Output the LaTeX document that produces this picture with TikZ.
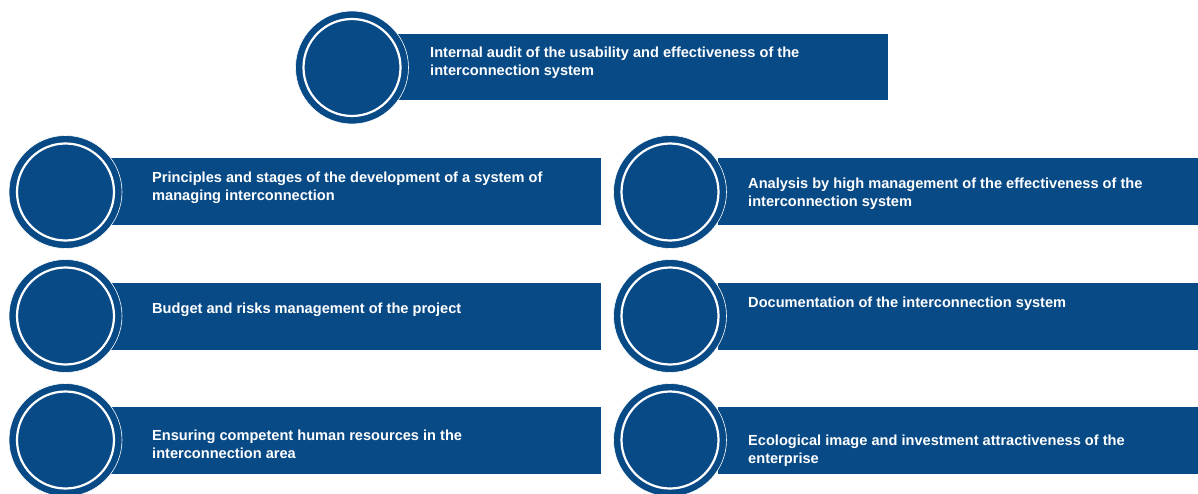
\documentclass[tikz,border=0pt]{standalone}
\usepackage{fontspec}
\setmainfont{Liberation Sans}
\definecolor{navy}{RGB}{8,74,134}
\begin{document}
\begin{tikzpicture}[x=1pt,y=-1pt,
  bar/.style={fill=navy,draw=none,anchor=north west,inner sep=0pt},
  outerc/.style={circle,fill=navy,draw=white,line width=0.6pt,minimum size=113pt,inner sep=0pt},
  ring/.style={circle,draw=white,line width=2.2pt,fill=navy,minimum size=97pt,inner sep=0pt},
  lbl/.style={anchor=west,align=left,text=white,font=\bfseries\fontsize{14.6}{17.8}\selectfont,inner sep=0pt}]
\useasboundingbox (0,0) rectangle (1198,494);
% bars
\node[bar,minimum width=490pt,minimum height=66pt] (b0) at (398,34) {};
\node[bar,minimum width=491pt,minimum height=67pt] (b1) at (110,158) {};
\node[bar,minimum width=491pt,minimum height=67pt] (b2) at (110,283) {};
\node[bar,minimum width=491pt,minimum height=67pt] (b3) at (110,407) {};
\node[bar,minimum width=480pt,minimum height=67pt] (b4) at (718,158) {};
\node[bar,minimum width=480pt,minimum height=67pt] (b5) at (718,283) {};
\node[bar,minimum width=480pt,minimum height=67pt] (b6) at (718,407) {};
% circles
\foreach \n/\x/\y in {0/352/67.5,1/65.5/192,2/65.5/316,3/65.5/440,4/670/192,5/670/316,6/670/440}{
  \node[outerc] (c\n) at (\x,\y) {};
  \node[ring] (r\n) at (c\n) {};
}
% labels
\node[lbl] (t0) at (430,62.5) {Internal audit of the usability and effectiveness of the\\interconnection system};
\node[lbl] (t1) at (152,187.5) {Principles and stages of the development of a system of\\managing interconnection};
\node[lbl] (t2) at (152,310) {Budget and risks management of the project};
\node[lbl] (t3) at (152,444) {Ensuring competent human resources in the\\interconnection area};
\node[lbl] (t4) at (748,194) {Analysis by high management of the effectiveness of the\\interconnection system};
\node[lbl] (t5) at (748,303.5) {Documentation of the interconnection system};
\node[lbl] (t6) at (748,451) {Ecological image and investment attractiveness of the\\enterprise};
\end{tikzpicture}
\end{document}
